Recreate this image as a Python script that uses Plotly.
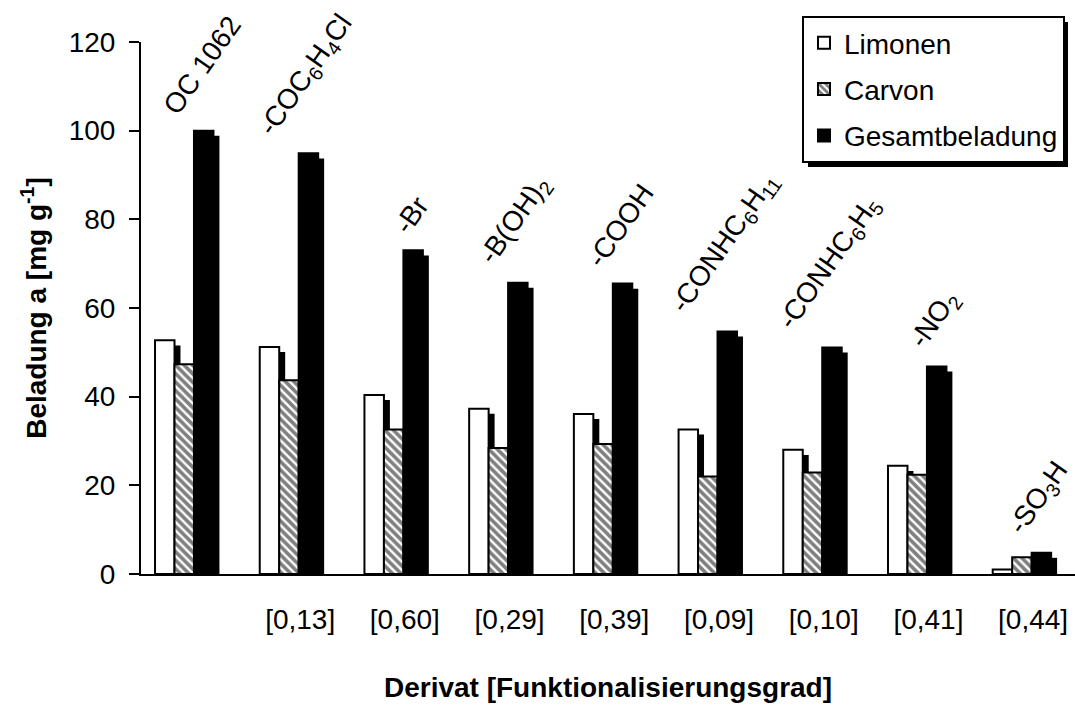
import plotly.graph_objects as go

# Derivatives (functional groups) and their degree of functionalisation
derivate = ["OC 1062", "-COC<sub>6</sub>H<sub>4</sub>Cl", "-Br", "-B(OH)<sub>2</sub>", "-COOH",
            "-CONHC<sub>6</sub>H<sub>11</sub>", "-CONHC<sub>6</sub>H<sub>5</sub>", "-NO<sub>2</sub>",
            "-SO<sub>3</sub>H"]
grad = ["", "[0,13]", "[0,60]", "[0,29]", "[0,39]", "[0,09]", "[0,10]", "[0,41]", "[0,44]"]

# Loading in mg/g
limonen = [52.7, 51.2, 40.4, 37.3, 36.1, 32.6, 28.0, 24.4, 1.0]
carvon = [47.3, 43.7, 32.6, 28.4, 29.3, 22.0, 22.9, 22.4, 3.8]
gesamt = [100.0, 94.9, 73.0, 65.7, 65.5, 54.7, 51.1, 46.8, 4.8]

FONT = "Liberation Sans, Arial, sans-serif"
FS = 28
x = list(range(len(derivate)))

BAR_W = 0.186
offsets = {"Limonen": -0.386, "Carvon": -0.200, "Gesamtbeladung": -0.014}
SH_DX = 0.057   # drop shadow shift to the right (category units)
SH_DY = 1.15    # drop shadow shift downward (mg/g)

series = [("Limonen", limonen), ("Carvon", carvon), ("Gesamtbeladung", gesamt)]

fig = go.Figure()

# drop shadows behind every bar
for name, vals in series:
    fig.add_trace(go.Bar(
        x=x, y=[v - SH_DY for v in vals], offset=offsets[name] + SH_DX, width=BAR_W,
        marker=dict(color="black", line=dict(width=0)),
        showlegend=False, hoverinfo="skip"))

styles = {
    "Limonen": dict(color="white", line=dict(color="black", width=2)),
    "Carvon": dict(color="white", line=dict(color="black", width=2),
                   pattern=dict(shape="\\", fgcolor="black", bgcolor="white",
                                size=6, solidity=0.6)),
    "Gesamtbeladung": dict(color="black", line=dict(color="black", width=2)),
}

for name, vals in series:
    fig.add_trace(go.Bar(
        x=x, y=vals, offset=offsets[name], width=BAR_W, name=name,
        marker=styles[name], legendgroup=name))

# rotated derivative labels above each group
for xi, lab, g in zip(x, derivate, gesamt):
    fig.add_annotation(x=xi + 0.06, y=g, xref="x", yref="y", text=lab,
                       textangle=-55, showarrow=False, xanchor="center",
                       yanchor="bottom", yshift=8,
                       font=dict(family=FONT, size=FS, color="black"))

# legend drop shadow
fig.add_shape(type="rect", xref="paper", yref="paper",
              x0=(808 - 141) / 934, x1=(1068 - 141) / 934,
              y0=(574 - 167) / 532, y1=(574 - 22) / 532,
              fillcolor="black", line=dict(width=0), layer="above")

fig.update_layout(
    width=1075, height=709,
    margin=dict(l=141, r=0, t=42, b=135),
    paper_bgcolor="white", plot_bgcolor="white",
    barmode="overlay",
    font=dict(family=FONT, size=FS, color="black"),
    legend=dict(x=(802 - 141) / 934, y=(574 - 16) / 532, xanchor="left", yanchor="top",
                bgcolor="white", bordercolor="black", borderwidth=2,
                font=dict(family=FONT, size=FS), tracegroupgap=7),
    xaxis=dict(range=[-0.52, 8.40], tickvals=x[1:], ticktext=grad[1:], showline=True,
               linecolor="black", linewidth=2, ticks="", showgrid=False, zeroline=False,
               tickfont=dict(family=FONT, size=FS), ticklabelstandoff=19,
               title=dict(text="<b>Derivat [Funktionalisierungsgrad]</b>",
                          font=dict(family=FONT, size=FS), standoff=44)),
    yaxis=dict(range=[0, 120], tickvals=[0, 20, 40, 60, 80, 100, 120], showline=True,
               linecolor="black", linewidth=2, ticks="outside", ticklen=10, tickwidth=2,
               tickcolor="black", showgrid=False, zeroline=False,
               tickfont=dict(family=FONT, size=FS), ticklabelstandoff=8,
               title=dict(text="<b>Beladung a [mg g<sup>-1</sup>]</b>",
                          font=dict(family=FONT, size=FS), standoff=14)),
)

fig.write_html("out.html")
